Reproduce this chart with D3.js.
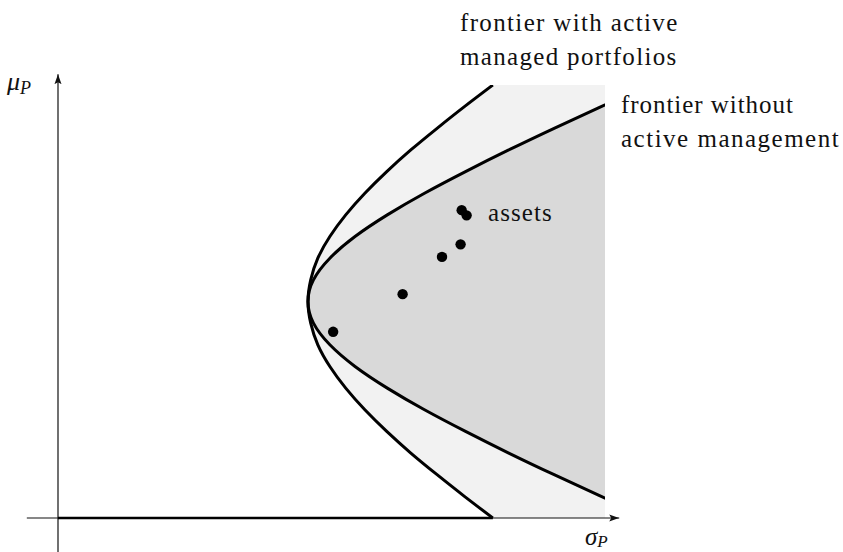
<!DOCTYPE html>
<html>
<head>
<meta charset="utf-8">
<script src="https://cdn.jsdelivr.net/npm/d3@7"></script>
<style>
  body { margin: 0; background: #fff; }
</style>
</head>
<body>
<svg id="chart" width="843" height="552"></svg>
<script>
// Expected-return levels at which both frontiers are sampled
const frontierMu = [0, 0.05, 0.1, 0.15, 0.2, 0.25, 0.3, 0.35, 0.4, 0.45, 0.5,
                    0.55, 0.6, 0.65, 0.7, 0.75, 0.8, 0.85, 0.9, 0.95, 1];
// Minimum risk at each level, with active managed portfolios (outer frontier)
const activeSigma = [0.795, 0.743, 0.693, 0.645, 0.601, 0.561, 0.526, 0.497, 0.475, 0.462, 0.457,
                     0.462, 0.475, 0.497, 0.526, 0.561, 0.601, 0.645, 0.693, 0.743, 0.795];
// Minimum risk at each level, without active management (inner frontier)
const passiveSigma = [1.081, 0.993, 0.907, 0.824, 0.745, 0.670, 0.602, 0.543, 0.497, 0.467, 0.457,
                      0.467, 0.497, 0.543, 0.602, 0.670, 0.745, 0.824, 0.907, 0.993, 1.081];
// Individual assets
const assetSigma = [0.503, 0.630, 0.702, 0.736, 0.738, 0.747];
const assetMu    = [0.430, 0.517, 0.603, 0.632, 0.711, 0.699];

const FONT = '"Liberation Serif"';

const svg = d3.select("#chart");
const x = d3.scaleLinear().domain([0, 1]).range([58, 605]);
const y = d3.scaleLinear().domain([0, 1]).range([518, 85]);

const defs = svg.append("defs");
defs.append("clipPath").attr("id", "plotClip")
  .append("rect")
  .attr("x", x(0)).attr("y", y(1))
  .attr("width", x(1) - x(0)).attr("height", y(0) - y(1));

defs.append("marker").attr("id", "arrow")
  .attr("viewBox", "0 0 10 10").attr("refX", 10).attr("refY", 5)
  .attr("markerWidth", 10).attr("markerHeight", 10)
  .attr("markerUnits", "userSpaceOnUse").attr("orient", "auto")
  .append("path").attr("d", "M0,1.5 L10,5 L0,8.5 L2,5 Z").attr("fill", "#111");

const line = d3.line().x(d => x(d[0])).y(d => y(d[1])).curve(d3.curveNatural);
const activePts = frontierMu.map((m, i) => [activeSigma[i], m]);
const passivePts = frontierMu.map((m, i) => [passiveSigma[i], m]);

const plot = svg.append("g").attr("clip-path", "url(#plotClip)");

// Region reachable with active management
plot.append("path")
  .attr("d", line(activePts) + `L${x(1.2)},${y(1)}L${x(1.2)},${y(0)}Z`)
  .attr("fill", "#f2f2f2");

// Region reachable with the plain assets only
plot.append("path")
  .attr("d", line(passivePts) + `L${x(1.2)},${y(1)}L${x(1.2)},${y(0)}Z`)
  .attr("fill", "#d9d9d9");

// Frontier curves
[activePts, passivePts].forEach(pts => {
  plot.append("path")
    .attr("d", line(pts))
    .attr("fill", "none")
    .attr("stroke", "#000")
    .attr("stroke-width", 3);
});

// Axes
svg.append("line")
  .attr("x1", x(-0.057)).attr("x2", x(1.026))
  .attr("y1", y(0)).attr("y2", y(0))
  .attr("stroke", "#111").attr("stroke-width", 1.2)
  .attr("marker-end", "url(#arrow)");
svg.append("line")
  .attr("x1", x(0)).attr("x2", x(0))
  .attr("y1", y(-0.08)).attr("y2", y(1.025))
  .attr("stroke", "#111").attr("stroke-width", 1.2)
  .attr("marker-end", "url(#arrow)");

// Lower boundary of the attainable set along the axis
svg.append("line")
  .attr("x1", x(0)).attr("x2", x(activeSigma[0]))
  .attr("y1", y(0)).attr("y2", y(0))
  .attr("stroke", "#000").attr("stroke-width", 2.6);

// Assets
svg.append("g").selectAll("circle")
  .data(assetSigma.map((s, i) => [s, assetMu[i]]))
  .join("circle")
  .attr("cx", d => x(d[0])).attr("cy", d => y(d[1]))
  .attr("r", 5.2).attr("fill", "#000");

// Labels
function label(txt, px, py, spacing) {
  svg.append("text")
    .attr("x", px).attr("y", py)
    .style("font-family", FONT)
    .style("font-size", "25px")
    .style("letter-spacing", spacing + "px")
    .style("fill", "#111")
    .text(txt);
}
label("frontier with active", 460, 31, 1.35);
label("managed portfolios", 460, 65, 1.33);
label("frontier without", 621, 113, 0.95);
label("active management", 621, 147, 1.5);
label("assets", 488, 221, 1.1);

// Axis titles
const mu = svg.append("text").attr("x", 7).attr("y", 90)
  .style("font-family", FONT).style("font-style", "italic").style("fill", "#111");
mu.append("tspan").style("font-size", "26px").text("μ");
mu.append("tspan").style("font-size", "18px").attr("dy", 4).text("P");

const sig = svg.append("text").attr("x", 585).attr("y", 545)
  .style("font-family", FONT).style("font-style", "italic").style("fill", "#111");
sig.append("tspan").style("font-size", "25px").text("σ");
sig.append("tspan").style("font-size", "17px").attr("dy", 2).text("P");
</script>
</body>
</html>
